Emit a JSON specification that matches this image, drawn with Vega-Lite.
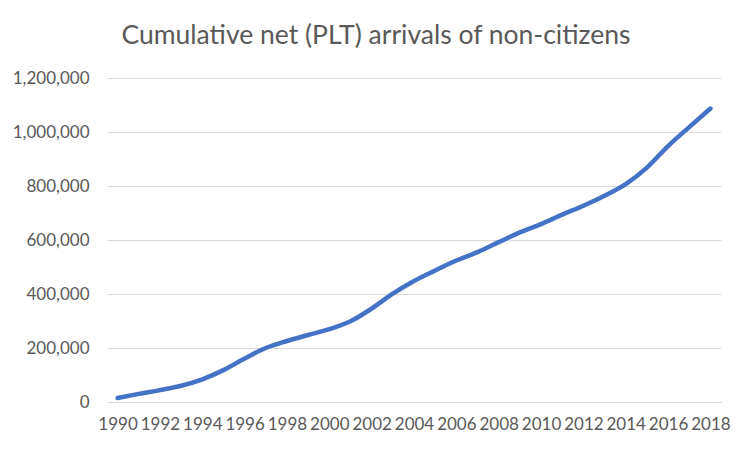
{
  "$schema": "https://vega.github.io/schema/vega-lite/v6.json",
  "width": 614,
  "height": 324,
  "autosize": {"type": "none"},
  "padding": {"left": 107, "top": 78, "right": 30, "bottom": 49},
  "background": "white",
  "title": {
    "text": "Cumulative net (PLT) arrivals of non-citizens",
    "font": "Lato",
    "fontSize": 26.5,
    "fontWeight": "normal",
    "color": "#595959",
    "anchor": "middle",
    "dx": -38,
    "offset": 20
  },
  "config": {
    "view": {"stroke": null},
    "axis": {"labelFont": "Lato", "labelFontSize": 17, "labelColor": "#595959"}
  },
  "data": {
    "values": [
      {"year": 1990, "value": 15000},
      {"year": 1991, "value": 30000},
      {"year": 1992, "value": 44000},
      {"year": 1993, "value": 60000},
      {"year": 1994, "value": 84000},
      {"year": 1995, "value": 118000},
      {"year": 1996, "value": 161000},
      {"year": 1997, "value": 200000},
      {"year": 1998, "value": 226000},
      {"year": 1999, "value": 248000},
      {"year": 2000, "value": 270000},
      {"year": 2001, "value": 299000},
      {"year": 2002, "value": 346000},
      {"year": 2003, "value": 401000},
      {"year": 2004, "value": 448000},
      {"year": 2005, "value": 487000},
      {"year": 2006, "value": 524000},
      {"year": 2007, "value": 555000},
      {"year": 2008, "value": 592000},
      {"year": 2009, "value": 628000},
      {"year": 2010, "value": 659000},
      {"year": 2011, "value": 694000},
      {"year": 2012, "value": 727000},
      {"year": 2013, "value": 764000},
      {"year": 2014, "value": 807000},
      {"year": 2015, "value": 868000},
      {"year": 2016, "value": 948000},
      {"year": 2017, "value": 1018000},
      {"year": 2018, "value": 1087000}
    ]
  },
  "mark": {"type": "line", "color": "#4472C4", "strokeWidth": 4.5, "strokeCap": "round", "strokeJoin": "round", "interpolate": "monotone"},
  "encoding": {
    "x": {
      "field": "year",
      "type": "quantitative",
      "scale": {"domain": [1989.5, 2018.5], "nice": false, "zero": false},
      "axis": {
        "title": null,
        "values": [1990, 1992, 1994, 1996, 1998, 2000, 2002, 2004, 2006, 2008, 2010, 2012, 2014, 2016, 2018],
        "format": "d",
        "grid": false,
        "ticks": false,
        "domain": true,
        "domainColor": "#D9D9D9",
        "domainWidth": 1,
        "labelPadding": 14,
        "labelOverlap": false,
        "labelFlush": false
      }
    },
    "y": {
      "field": "value",
      "type": "quantitative",
      "scale": {"domain": [0, 1200000], "nice": false},
      "axis": {
        "title": null,
        "values": [0, 200000, 400000, 600000, 800000, 1000000, 1200000],
        "format": ",d",
        "grid": true,
        "gridColor": "#D9D9D9",
        "gridWidth": 1,
        "domain": false,
        "ticks": false,
        "labelPadding": 18
      }
    }
  }
}
